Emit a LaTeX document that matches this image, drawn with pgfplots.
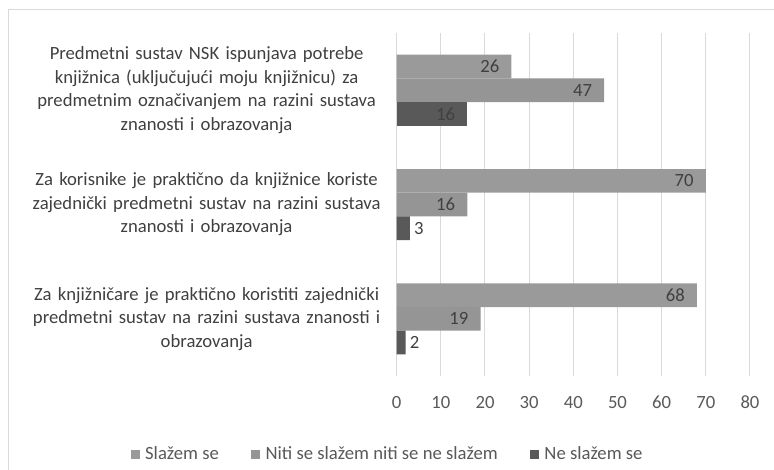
\documentclass[border=0pt]{standalone}
\usepackage{fontspec}
\setmainfont{Carlito}[Numbers=Lining]
\usepackage{pgfplots}
\pgfplotsset{compat=1.18}
\definecolor{cA}{HTML}{9A9A9A}
\definecolor{cB}{HTML}{959595}
\definecolor{cC}{HTML}{595959}
\definecolor{gridc}{HTML}{D9D9D9}
\definecolor{txt}{HTML}{595959}
\definecolor{lab}{HTML}{404040}
\pgfplotsset{sqleg/.style={legend image code/.code={\fill[##1] (0pt,-3.5pt) rectangle (7pt,3.5pt);}}}
\begin{document}
\begin{tikzpicture}[x=1pt,y=1pt]
\useasboundingbox (0,0) rectangle (580.5,351.75);
\draw[gridc, line width=0.75pt] (6,-20) rectangle (620,344.6);
\begin{axis}[
  at={(297.5pt,69.75pt)}, anchor=south west,
  scale only axis, width=265pt, height=257.25pt,
  xmin=0, xmax=80, ymin=-0.5, ymax=2.5, y dir=reverse,
  xbar, bar width=0.207,
  axis line style={draw=none},
  major tick length=0pt,
  /pgf/number format/assume math mode=true,
  xtick={0,10,20,30,40,50,60,70,80},
  xticklabels={0,10,20,30,40,50,60,70,80},
  ytick={0,1,2},
  yticklabels={{Predmetni sustav NSK ispunjava potrebe\\knjižnica (uključujući moju knjižnicu) za\\predmetnim označivanjem na razini sustava\\znanosti i obrazovanja},
               {Za korisnike je praktično da knjižnice koriste\\zajednički predmetni sustav na razini sustava\\znanosti i obrazovanja},
               {Za knjižničare je praktično koristiti zajednički\\predmetni sustav na razini sustava znanosti i\\obrazovanja}},
  yticklabel style={text width=270pt, align=center, font=\fontsize{14}{17.6}\selectfont, text=lab, xshift=-4pt},
  xticklabel style={anchor=base, font=\fontsize{14}{16}\selectfont, text=txt, yshift=-24pt},
  xmajorgrids, grid style={gridc, line width=0.75pt},
  nodes near coords,
  nodes near coords style={anchor=east, inner sep=0pt, xshift=-9pt, font=\fontsize{14}{16}\selectfont, text=lab},
  legend style={at={(-0.025,-0.228)}, anchor=center, draw=none, legend columns=3,
    /tikz/every odd column/.append style={column sep=2pt},
    /tikz/every even column/.append style={column sep=22pt},
    font=\fontsize{14}{16}\selectfont, text=txt},
]
\addplot[fill=cA, draw=none, bar shift=-0.207, sqleg]
  coordinates {(26,0) (70,1) (68,2)};
\addlegendentry{Slažem se}
\addplot[fill=cB, draw=none, bar shift=0, sqleg]
  coordinates {(47,0) (16,1) (19,2)};
\addlegendentry{Niti se slažem niti se ne slažem}
\addplot[fill=cC, draw=none, bar shift=0.207, sqleg]
  coordinates {(16,0)};
\addlegendentry{Ne slažem se}
\addplot[fill=cC, draw=none, bar shift=0.207, forget plot,
  nodes near coords style={anchor=west, xshift=12pt}]
  coordinates {(3,1) (2,2)};
\end{axis}
\end{tikzpicture}
\end{document}
